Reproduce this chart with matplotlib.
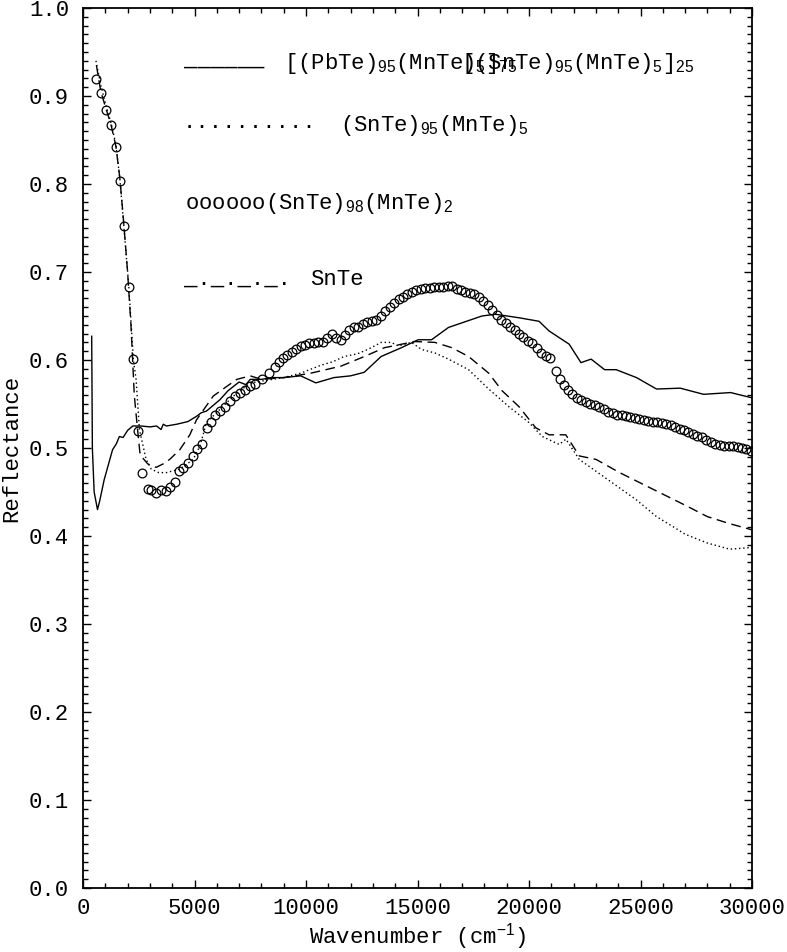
import numpy as np
import matplotlib
matplotlib.use('Agg')
import matplotlib.pyplot as plt
from matplotlib.ticker import MultipleLocator

plt.rcParams['font.family'] = 'Liberation Mono'
plt.rcParams['mathtext.fontset'] = 'custom'
plt.rcParams['mathtext.rm'] = 'Liberation Sans'
plt.rcParams['mathtext.it'] = 'Liberation Sans'

# [(PbTe)95(MnTe)5]75[(SnTe)95(MnTe)5]25 - solid
solid_x = [390, 420, 500, 650, 750, 950, 1325, 1500, 1630, 1800, 2000, 2230, 2600, 3000,
           3300, 3500, 3600, 3740, 4200, 4700, 5090, 5300, 5540, 6145, 6500, 7000, 7300,
           7500, 8000, 8500, 9000, 9760, 10440, 11250, 12000, 12610, 13370, 14280, 15030,
           15630, 16390, 17890, 18490, 19550, 20450, 20900, 21800, 22330, 22785, 23390,
           23910, 24820, 25720, 26780, 27830, 29040, 30000]
solid_y = [0.627, 0.500, 0.450, 0.430, 0.440, 0.464, 0.498, 0.505, 0.513, 0.512, 0.520, 0.525,
           0.525, 0.524, 0.525, 0.521, 0.527, 0.525, 0.527, 0.530, 0.536, 0.540, 0.542, 0.555,
           0.565, 0.575, 0.572, 0.578, 0.578, 0.580, 0.580, 0.582, 0.574, 0.580, 0.582, 0.586,
           0.604, 0.614, 0.623, 0.623, 0.637, 0.650, 0.652, 0.648, 0.644, 0.633, 0.618, 0.597,
           0.601, 0.589, 0.589, 0.580, 0.567, 0.568, 0.561, 0.563, 0.557]

# (SnTe)95(MnTe)5 - dotted
dot_x = [580, 800, 1025, 1250, 1475, 1655, 1822, 2050, 2260, 2380, 2530, 2830, 3060, 3400,
         3735, 4340, 4940, 5240, 5540, 6145, 6745, 7500, 8000, 8500, 9000, 9760, 10660,
         11200, 11715, 12300, 12770, 13370, 13825, 14130, 14730, 15180, 15780, 16390,
         17290, 18195, 19095, 19995, 20600, 21355, 21655, 22255, 23315, 24820, 25720,
         26500, 27000, 28000, 29000, 30000]
dot_y = [0.940, 0.912, 0.890, 0.870, 0.845, 0.805, 0.755, 0.685, 0.600, 0.578, 0.521, 0.487,
         0.476, 0.472, 0.472, 0.476, 0.487, 0.502, 0.529, 0.544, 0.559, 0.574, 0.576, 0.578,
         0.580, 0.585, 0.594, 0.598, 0.604, 0.607, 0.612, 0.620, 0.620, 0.616, 0.620, 0.612,
         0.608, 0.601, 0.589, 0.567, 0.547, 0.529, 0.513, 0.504, 0.510, 0.487, 0.468, 0.441,
         0.422, 0.410, 0.402, 0.392, 0.385, 0.387]

# (SnTe)98(MnTe)2 - open circles
circ_x = [573, 800, 1025, 1250, 1475, 1655, 1822, 2050, 2260, 2455, 2645, 2900, 3055, 3280,
          3505, 3700, 3915, 4110, 4290, 4490, 4715, 4940, 5090, 5315, 5540, 5740, 5920,
          6145, 6370, 6600, 6820, 7050, 7275, 7500, 7725, 8030, 8330, 8630, 8780, 8950,
          9150, 9350, 9550, 9760, 9950, 10150, 10350, 10550, 10750, 10950, 11150, 11350,
          11550, 11750, 11950, 12150, 12350, 12550, 12750, 12950, 13150, 13350, 13550,
          13750, 13950, 14150, 14350, 14550, 14750, 14950, 15150, 15350, 15550, 15750,
          15950, 16150, 16350, 16550, 16750, 16950, 17150, 17350, 17550, 17750, 17950,
          18150, 18350, 18550, 18750, 18950, 19150, 19350, 19550, 19750, 19950, 20150,
          20350, 20550, 20750, 20950, 21200, 21380, 21550, 21750, 21950, 22150, 22350,
          22550, 22750, 22950, 23150, 23350, 23550, 23750, 23950, 24150, 24350, 24550,
          24750, 24950, 25150, 25350, 25550, 25750, 25950, 26150, 26350, 26550, 26750,
          26950, 27150, 27350, 27550, 27750, 27950, 28150, 28350, 28550, 28750, 28950,
          29150, 29350, 29550, 29750, 29950]
circ_y = [0.919, 0.903, 0.884, 0.867, 0.842, 0.803, 0.752, 0.683, 0.601, 0.519, 0.472, 0.453,
          0.452, 0.449, 0.452, 0.451, 0.456, 0.461, 0.474, 0.477, 0.483, 0.491, 0.499, 0.505,
          0.523, 0.530, 0.537, 0.542, 0.547, 0.553, 0.559, 0.563, 0.566, 0.570, 0.573, 0.578,
          0.585, 0.592, 0.598, 0.602, 0.606, 0.609, 0.612, 0.616, 0.617, 0.619, 0.619, 0.620,
          0.621, 0.625, 0.629, 0.625, 0.623, 0.628, 0.634, 0.637, 0.638, 0.641, 0.643, 0.644,
          0.646, 0.650, 0.656, 0.660, 0.665, 0.669, 0.672, 0.675, 0.677, 0.679, 0.681, 0.682,
          0.682, 0.683, 0.683, 0.683, 0.684, 0.684, 0.681, 0.679, 0.677, 0.676, 0.675, 0.672,
          0.667, 0.662, 0.657, 0.651, 0.646, 0.642, 0.638, 0.634, 0.630, 0.626, 0.622, 0.619,
          0.614, 0.608, 0.604, 0.602, 0.588, 0.578, 0.572, 0.566, 0.561, 0.557, 0.554, 0.552,
          0.550, 0.549, 0.547, 0.544, 0.541, 0.540, 0.538, 0.537, 0.536, 0.535, 0.534, 0.533,
          0.532, 0.531, 0.530, 0.529, 0.528, 0.527, 0.526, 0.524, 0.522, 0.520, 0.518, 0.516,
          0.514, 0.512, 0.509, 0.507, 0.505, 0.503, 0.502, 0.502, 0.502, 0.501, 0.500,
          0.499, 0.497]

# SnTe - dashed
dash_x = [600, 800, 1025, 1250, 1475, 1655, 1822, 2000, 2150, 2300, 2450, 2550, 2600, 2900,
          3280, 3600, 3885, 4340, 4790, 5090, 5840, 6445, 6900, 7500, 8000, 8500, 9000, 9500,
          10210, 11565, 12620, 13520, 14880, 15780, 16535, 17290, 18195, 18795, 19550,
          20300, 20900, 21650, 22255, 23010, 24065, 25570, 27080, 28000, 29000, 30000]
dash_y = [0.935, 0.905, 0.886, 0.868, 0.843, 0.806, 0.757, 0.700, 0.640, 0.560, 0.520, 0.495,
          0.491, 0.482, 0.478, 0.482, 0.487, 0.498, 0.515, 0.532, 0.559, 0.570, 0.578, 0.582,
          0.578, 0.579, 0.580, 0.582, 0.585, 0.593, 0.604, 0.614, 0.621, 0.620, 0.614, 0.604,
          0.585, 0.565, 0.547, 0.523, 0.515, 0.515, 0.491, 0.487, 0.472, 0.453, 0.434, 0.422,
          0.414, 0.407]

W, H = 787, 952
FS = 16
fig = plt.figure(figsize=(W / 100, H / 100), dpi=100)
ax = fig.add_axes([83 / W, 1 - 888 / H, (752 - 83) / W, (888 - 8) / H])

ax.plot(solid_x, solid_y, color='black', lw=1.0)
ax.plot(dot_x, dot_y, color='black', lw=1.0, linestyle=(0, (1, 2)))
ax.plot(dash_x, dash_y, color='black', lw=1.0, linestyle=(0, (7, 4)))
ax.plot(circ_x, circ_y, linestyle='none', marker='o', markersize=6.3,
        markerfacecolor='none', markeredgecolor='black', markeredgewidth=0.9)

ax.set_xlim(0, 30000)
ax.set_ylim(0, 1.0)
ax.xaxis.set_major_locator(MultipleLocator(5000))
ax.xaxis.set_minor_locator(MultipleLocator(1000))
ax.yaxis.set_major_locator(MultipleLocator(0.1))
ax.yaxis.set_minor_locator(MultipleLocator(0.01))
ax.yaxis.set_major_formatter(plt.FormatStrFormatter('%.1f'))
ax.tick_params(which='both', direction='in', top=True, right=True, labelsize=FS, width=1)
ax.tick_params(which='major', length=6)
ax.tick_params(which='minor', length=3.5)
ax.tick_params(axis='x', pad=7)
ax.tick_params(axis='y', pad=10)
for s in ax.spines.values():
    s.set_linewidth(1.3)

ax.set_xlabel('Wavenumber (cm$^{-1}$)', fontsize=FS, labelpad=2)
ax.set_ylabel('Reflectance', fontsize=FS, labelpad=5)

# text legend, as in the original
def ftext(px, py, s):
    fig.text(px / W, 1 - py / H, s, fontsize=FS, va='center', ha='left')

ftext(184, 60, '______')
ftext(284, 63, '[(PbTe)$_{95}$(MnTe)$_5$]$_{75}$')
ftext(461, 63, '[(SnTe)$_{95}$(MnTe)$_5$]$_{25}$')
ftext(183, 122, '..........')
ftext(340, 125, '(SnTe)$_{95}$(MnTe)$_5$')
ftext(185, 204, 'oooooo(SnTe)$_{98}$(MnTe)$_2$')
ftext(184, 279, '_._._._.')
ftext(310, 279, 'SnTe')

fig.savefig('out.png', dpi=100)
